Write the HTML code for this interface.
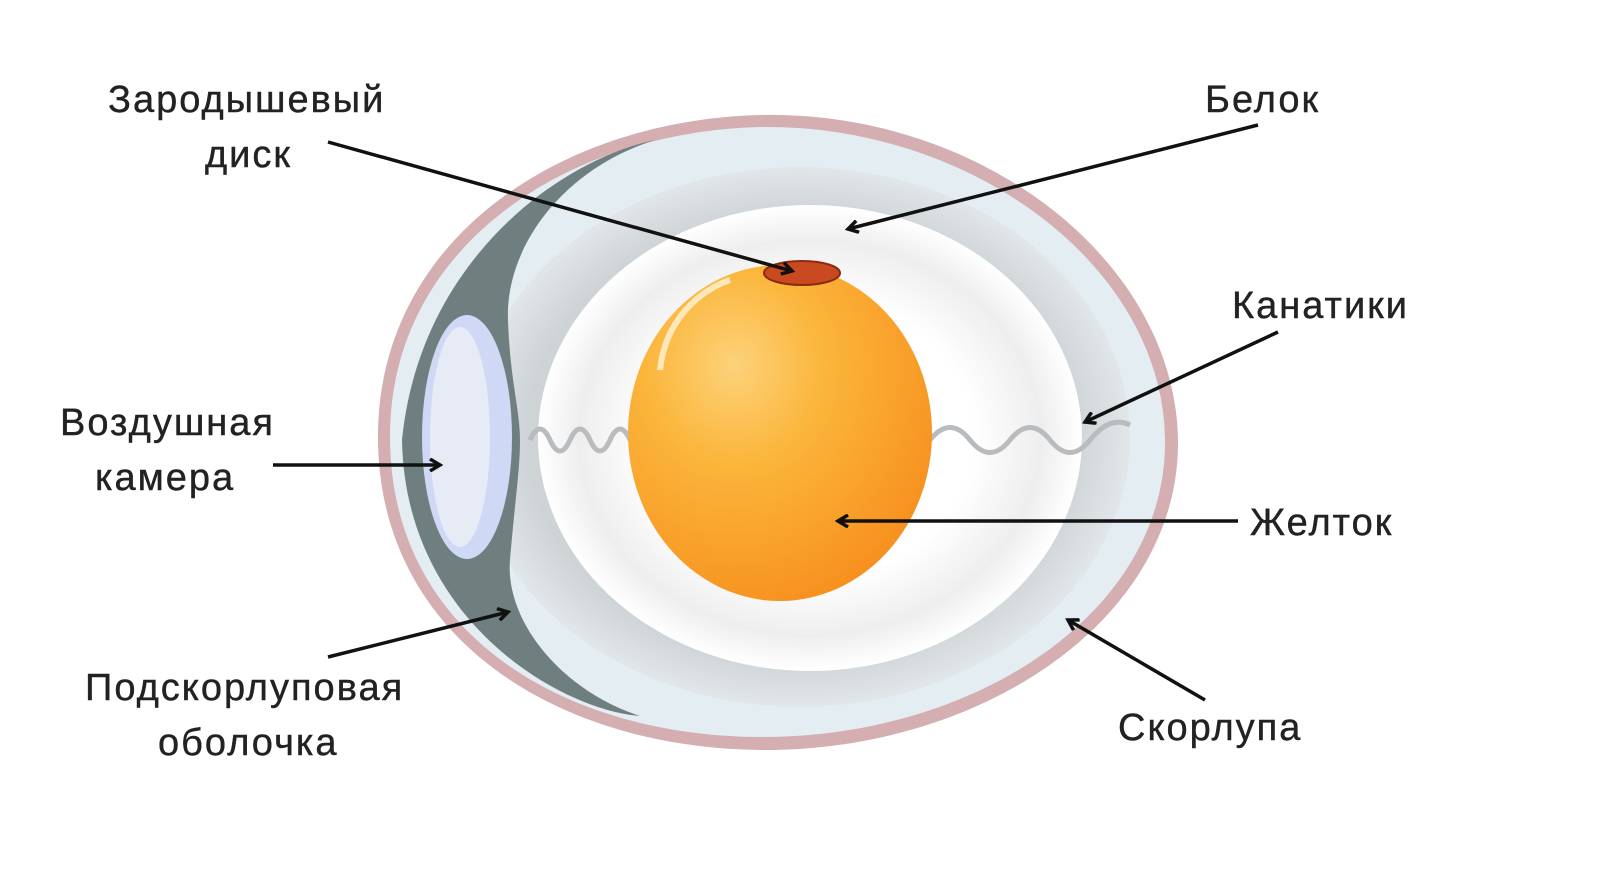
<!DOCTYPE html>
<html><head><meta charset="utf-8"><style>
html,body{margin:0;padding:0;background:#fff;}
svg{display:block}
text{font-family:"Liberation Sans",sans-serif;font-size:38px;letter-spacing:2px;fill:#222;stroke:#222;stroke-width:0.4px;}
</style></head><body>
<svg width="1603" height="884" viewBox="0 0 1603 884" xmlns="http://www.w3.org/2000/svg">
<defs>
<radialGradient id="yolk" cx="0.35" cy="0.3" r="0.75">
<stop offset="0" stop-color="#fcd27a"/><stop offset="0.4" stop-color="#fbb53a"/><stop offset="1" stop-color="#f7901f"/>
</radialGradient>
<radialGradient id="alb" cx="0.5" cy="0.5" r="0.55">
<stop offset="0.75" stop-color="#c8cdcf"/><stop offset="1" stop-color="#eef3f5"/>
</radialGradient>
<radialGradient id="wh" cx="0.5" cy="0.5" r="0.5">
<stop offset="0.6" stop-color="#ffffff"/><stop offset="0.85" stop-color="#eeeeee"/><stop offset="1" stop-color="#ffffff"/>
</radialGradient>
<marker id="ah" markerWidth="14" markerHeight="14" refX="11" refY="7" orient="auto" markerUnits="userSpaceOnUse">
<path d="M1,1 L11,7 L1,13" fill="none" stroke="#111" stroke-width="3.5"/>
</marker>
</defs>
<path d="M760,115 C980,110 1175,260 1178,440 C1180,620 980,752 760,750 C560,748 380,640 378,440 C376,240 560,120 760,115 Z" fill="#d4aeb0"/>
<path d="M760,127 C970,124 1163,265 1165,440 C1167,612 975,738 760,737 C565,736 392,635 390,440 C388,248 565,132 760,127 Z" fill="#e4eef2"/>
<ellipse cx="800" cy="437" rx="330" ry="270" fill="url(#alb)" opacity="0.8"/>
<path d="M655,140 C560,160 420,260 402,440 C405,620 560,710 640,716 C560,690 505,620 510,560 C515,500 520,470 520,440 C520,410 510,380 508,320 C505,250 560,170 655,140 Z" fill="#6f7f7f"/>
<ellipse cx="467" cy="437" rx="45" ry="122" fill="#cfd8f5"/>
<ellipse cx="460" cy="437" rx="30" ry="110" fill="#e6ebf6"/>
<ellipse cx="810" cy="438" rx="272" ry="233" fill="url(#wh)"/>
<path d="M530,440 q10,-22 20,0 q10,22 20,0 q10,-22 20,0 q10,22 20,0 q10,-22 20,0" fill="none" stroke="#b8bcbe" stroke-width="5"/>
<path d="M930,440 q20,-25 40,0 q20,25 40,0 q20,-25 40,0 q20,25 40,0 q20,-25 40,-15" fill="none" stroke="#b8bcbe" stroke-width="5"/>
<ellipse cx="780" cy="433" rx="152" ry="168" fill="url(#yolk)"/>
<path d="M660,370 C665,320 700,290 730,280" fill="none" stroke="#fff3d6" stroke-width="6" opacity="0.8"/>
<ellipse cx="802" cy="273" rx="38" ry="12" fill="#c94a20" stroke="#8a2a10" stroke-width="2"/>
<g stroke="#111" stroke-width="3.5" fill="none">
<line x1="328" y1="142" x2="792" y2="271" marker-end="url(#ah)"/>
<line x1="1258" y1="125" x2="848" y2="229" marker-end="url(#ah)"/>
<line x1="1278" y1="332" x2="1085" y2="422" marker-end="url(#ah)"/>
<line x1="273" y1="465" x2="440" y2="465" marker-end="url(#ah)"/>
<line x1="1238" y1="521" x2="838" y2="521" marker-end="url(#ah)"/>
<line x1="328" y1="657" x2="508" y2="612" marker-end="url(#ah)"/>
<line x1="1205" y1="700" x2="1068" y2="620" marker-end="url(#ah)"/>
</g>
<text x="108" y="112">Зародышевый</text>
<text x="205" y="167">диск</text>
<text x="1205" y="112">Белок</text>
<text x="1232" y="318">Канатики</text>
<text x="60" y="435">Воздушная</text>
<text x="95" y="490">камера</text>
<text x="1250" y="535">Желток</text>
<text x="85" y="700">Подскорлуповая</text>
<text x="158" y="755">оболочка</text>
<text x="1118" y="740">Скорлупа</text>
</svg>
</body></html>
